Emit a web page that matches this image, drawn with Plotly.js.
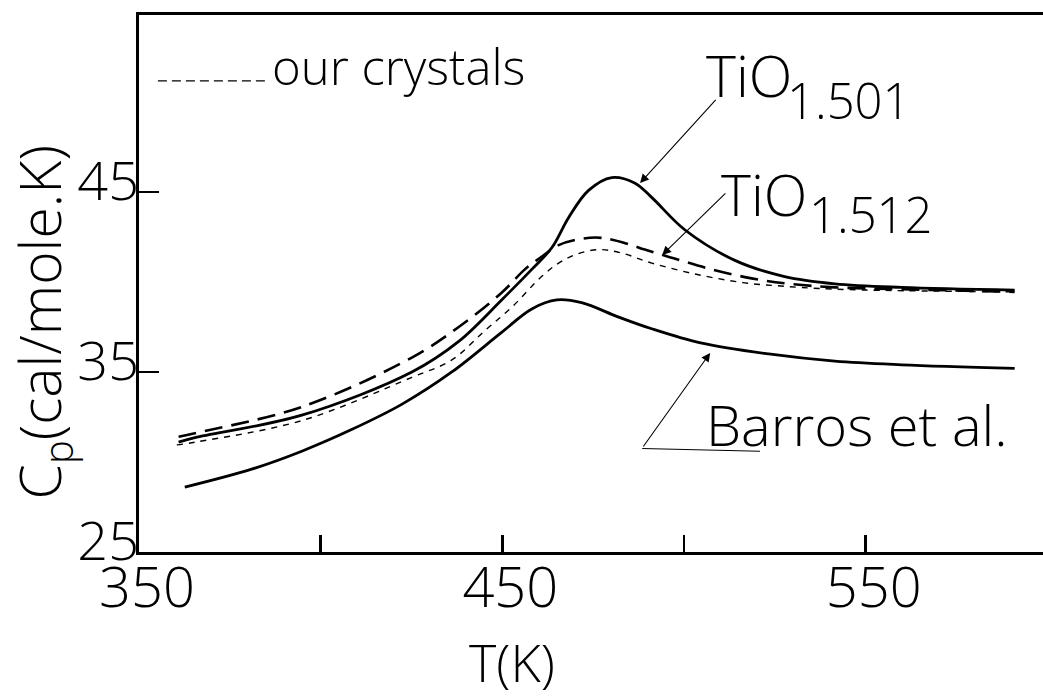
<!DOCTYPE html>
<html>
<head>
<meta charset="utf-8">
<script src="https://cdn.plot.ly/plotly-3.0.1.min.js"></script>
<style>html,body{margin:0;padding:0;background:#fff;}#chart{width:1043px;height:696px;}</style>
</head>
<body>
<div id="chart"></div>
<script>
// ---- data ----
const T_1501 = [360.9, 365.4, 394.8, 425.1, 438.0, 449.8, 458.1, 463.6, 468.3, 473.8, 480.1, 486.4, 491.1, 500.2, 514.0, 527.7, 541.5, 559.9, 591.0];
const Cp_1501 = [31.1, 31.35, 32.6, 35.0, 36.7, 39.0, 40.7, 41.9, 43.6, 45.1, 45.8, 45.5, 44.7, 42.9, 41.2, 40.3, 39.9, 39.7, 39.55];

const T_1512 = [360.9, 365.4, 394.8, 425.1, 438.0, 449.8, 456.2, 460.8, 465.5, 471.8, 477.4, 484.8, 489.2, 497.4, 507.6, 518.6, 528.8, 541.5, 559.9, 591.0];
const Cp_1512 = [31.4, 31.6, 33.06, 35.8, 37.5, 39.4, 40.7, 41.4, 42.05, 42.4, 42.45, 42.1, 41.8, 41.3, 40.7, 40.2, 39.9, 39.7, 39.6, 39.45];

const T_ours = [360.4, 365.4, 394.8, 425.1, 436.1, 445.2, 452.6, 460.8, 465.5, 469.9, 476.5, 482.9, 491.1, 504.0, 516.7, 525.0, 541.5, 591.0];
const Cp_ours = [30.95, 31.1, 32.3, 34.7, 35.67, 37.3, 38.6, 40.3, 41.05, 41.5, 41.8, 41.6, 41.05, 40.4, 39.95, 39.8, 39.6, 39.45];

const T_barros = [362.6, 381.0, 394.8, 408.5, 422.3, 436.1, 449.8, 458.1, 465.0, 471.8, 482.0, 491.1, 504.9, 523.3, 541.5, 559.9, 591.0];
const Cp_barros = [28.6, 29.6, 30.6, 31.8, 33.2, 35.0, 37.2, 38.5, 39.0, 38.85, 38.05, 37.4, 36.6, 36.0, 35.6, 35.4, 35.2];

const xTickVals = [350, 400, 450, 500, 550];
const xTickText = ['350', '', '450', '', '550'];
const yTickVals = [25, 35, 45];
const yTickText = ['25', '35', '45'];

const textFont = 'Open Sans, Liberation Sans, Arial, sans-serif';
const W = 300;

const traces = [
  {x: T_barros, y: Cp_barros, mode: 'lines', name: 'Barros et al.', line: {color: '#000', width: 2.8, shape: 'spline', smoothing: 1}},
  {x: T_ours, y: Cp_ours, mode: 'lines', name: 'our crystals', line: {color: '#000', width: 1.4, dash: '6px,6px', shape: 'spline', smoothing: 1}},
  {x: T_1512, y: Cp_1512, mode: 'lines', name: 'TiO1.512', line: {color: '#000', width: 2.6, dash: '18px,9px', shape: 'spline', smoothing: 1}},
  {x: T_1501, y: Cp_1501, mode: 'lines', name: 'TiO1.501', line: {color: '#000', width: 2.8, shape: 'spline', smoothing: 1}}
];

const arrowStyle = {showarrow: true, arrowhead: 2, arrowsize: 1.6, arrowwidth: 1.1, arrowcolor: '#000', axref: 'x', ayref: 'y', text: ''};

function txt(x, y, text, size, extra) {
  return Object.assign({xref: 'x', yref: 'y', x: x, y: y, xanchor: 'left', yanchor: 'middle', showarrow: false, text: text,
    font: {family: textFont, size: size, color: '#000', weight: W}}, extra || {});
}

const layout = {
  width: 1043, height: 696,
  margin: {l: 139, r: 0, t: 15, b: 144},
  paper_bgcolor: '#fff', plot_bgcolor: '#fff',
  showlegend: false,
  xaxis: {
    range: [350, 598.8], showgrid: false, zeroline: false,
    showline: true, linecolor: '#000', linewidth: 3.2, mirror: true,
    ticks: 'inside', ticklen: 17, tickwidth: 2.5, tickcolor: '#000',
    tickvals: xTickVals, ticktext: xTickText, ticklabelshift: 8, ticklabelstandoff: -15,
    tickfont: {family: textFont, size: 56, color: '#000', weight: W}
  },
  yaxis: {
    range: [25, 54.83], showgrid: false, zeroline: false,
    showline: true, linecolor: '#000', linewidth: 3.2,
    ticks: 'inside', ticklen: 20, tickwidth: 2.5, tickcolor: '#000',
    tickvals: yTickVals, ticktext: yTickText, ticklabelstandoff: -14, ticklabelshift: -11,
    tickfont: {family: textFont, size: 54, color: '#000', weight: W}
  },
  shapes: [
    {type: 'line', xref: 'x', yref: 'y', x0: 355.2, x1: 385.5, y0: 51.17, y1: 51.17, line: {color: '#000', width: 1.4, dash: '9px,5px'}},
    {type: 'line', xref: 'x', yref: 'y', x0: 488.5, x1: 520.9, y0: 30.75, y1: 30.6, line: {color: '#000', width: 1.1}}
  ],
  annotations: [
    txt(386.1, 52.0, 'our crystals', 49),
    txt(505.5, 51.5, 'TiO', 57),
    txt(527.8, 50.1, '1.501', 49),
    txt(509.6, 44.9, 'TiO', 57),
    txt(533.8, 43.8, '1.512', 49),
    txt(505.5, 32.1, 'Barros et al.', 56),
    Object.assign({x: 487.9, y: 45.5, ax: 509.1, ay: 50.2}, arrowStyle),
    Object.assign({x: 494.0, y: 41.5, ax: 511.8, ay: 45.0}, arrowStyle),
    Object.assign({x: 507.2, y: 36.06, ax: 488.5, ay: 30.78}, arrowStyle),
    {xref: 'paper', yref: 'paper', x: 0.4126, y: -0.203, xanchor: 'center', yanchor: 'middle', showarrow: false, text: 'T(K)', font: {family: textFont, size: 52, color: '#000', weight: W}},
    {xref: 'paper', yref: 'paper', x: -0.107, y: 0.428, xanchor: 'center', yanchor: 'middle', showarrow: false, textangle: -90, text: 'C<sub>p</sub>(cal/mole.K)', font: {family: textFont, size: 57, color: '#000', weight: W}}
  ]
};

Plotly.newPlot('chart', traces, layout, {displayModeBar: false, staticPlot: true});
</script>
</body>
</html>
